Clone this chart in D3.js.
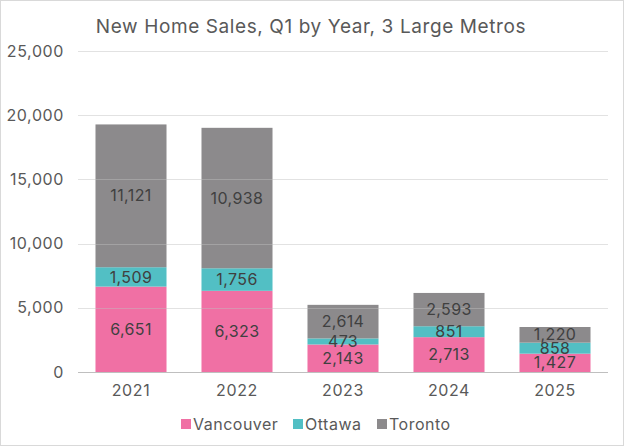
<!DOCTYPE html>
<html lang="en">
<head>
  <meta charset="UTF-8">
  <title>New Home Sales</title>
  <script src="https://d3js.org/d3.v7.min.js"></script>
  <style>
    body { margin: 0; font-family: Inter, "Open Sans", sans-serif; }
    svg { display: block; }
  </style>
</head>
<body>
  <svg width="624" height="446"></svg>
  <script>
    const years = ['2021', '2022', '2023', '2024', '2025'];
    const seriesNames = ['Vancouver', 'Ottawa', 'Toronto'];
    const vancouver = [6651, 6323, 2143, 2713, 1427];
    const ottawa = [1509, 1756, 473, 851, 858];
    const toronto = [11121, 10938, 2614, 2593, 1220];
    const yTicks = [0, 5000, 10000, 15000, 20000, 25000];
    const colors = ['#F070A4', '#52BFC4', '#8C8A8C'];

    const svg = d3.select('svg');
    const W = 624, H = 446;
    const m = { top: 51, right: 16, bottom: 74, left: 78 };

    svg.append('rect').attr('x', 0.5).attr('y', 0.5).attr('width', W - 1).attr('height', H - 1)
      .attr('fill', '#fff').attr('stroke', '#d9d9d9');

    svg.append('text').attr('x', W / 2 - 1).attr('y', 26).attr('dy', '0.35em').attr('text-anchor', 'middle')
      .attr('fill', '#595959').style('font-size', '19px').style('letter-spacing', '0.6px')
      .text('New Home Sales, Q1 by Year, 3 Large Metros');

    const table = years.map((y, i) => ({ year: y, Vancouver: vancouver[i], Ottawa: ottawa[i], Toronto: toronto[i] }));
    const stack = d3.stack().keys(seriesNames)(table);

    const x = d3.scaleBand().domain(years).range([m.left, W - m.right]).paddingInner(0.33).paddingOuter(0.165);
    const y = d3.scaleLinear().domain([0, 25000]).range([H - m.bottom, m.top]);

    // bars
    svg.append('g').selectAll('g').data(stack).join('g')
      .attr('fill', (d, i) => colors[i])
      .selectAll('rect').data(d => d).join('rect')
      .attr('x', d => x(d.data.year))
      .attr('y', d => y(d[1]))
      .attr('width', x.bandwidth())
      .attr('height', d => y(d[0]) - y(d[1]));

    // gridlines (drawn faintly over bars)
    svg.append('g').selectAll('line').data(yTicks.slice(1)).join('line')
      .attr('x1', m.left).attr('x2', W - m.right)
      .attr('y1', d => Math.round(y(d)) + 0.5).attr('y2', d => Math.round(y(d)) + 0.5)
      .attr('stroke', '#bfbfbf').attr('stroke-opacity', 0.45);
    svg.append('line').attr('x1', m.left).attr('x2', W - m.right)
      .attr('y1', Math.round(y(0)) + 0.5).attr('y2', Math.round(y(0)) + 0.5)
      .attr('stroke', '#bfbfbf');

    // y axis labels
    const yAxis = d3.axisLeft(y).tickValues(yTicks).tickSize(0).tickPadding(14).tickFormat(d3.format(','));
    const ya = svg.append('g').attr('transform', `translate(${m.left},0)`).call(yAxis);
    ya.select('.domain').remove();
    ya.selectAll('text').attr('fill', '#595959').style('font-size', '16px').style('letter-spacing', '0.6px')
      .style('font-family', 'Inter, sans-serif');

    // x axis labels
    const xAxis = d3.axisBottom(x).tickSize(0).tickPadding(13);
    const xa = svg.append('g').attr('transform', `translate(0,${y(0)})`).call(xAxis);
    xa.select('.domain').remove();
    xa.selectAll('text').attr('fill', '#595959').style('font-size', '16px').style('letter-spacing', '0.6px')
      .style('font-family', 'Inter, sans-serif');

    // data labels
    svg.append('g').selectAll('g').data(stack).join('g')
      .selectAll('text').data(d => d.map(v => ({ v, key: d.key }))).join('text')
      .attr('x', d => x(d.v.data.year) + x.bandwidth() / 2)
      .attr('y', d => (y(d.v[0]) + y(d.v[1])) / 2)
      .attr('dy', '0.35em')
      .attr('text-anchor', 'middle')
      .attr('fill', '#404040')
      .style('font-size', '16px').style('letter-spacing', '0.4px')
      .text(d => d3.format(',')(d.v.data[d.key]));

    // legend
    const legendX = [181, 293, 377];
    const lg = svg.append('g').selectAll('g').data(seriesNames).join('g')
      .attr('transform', (d, i) => `translate(${legendX[i]},424)`);
    lg.append('rect').attr('x', 0).attr('y', -5).attr('width', 10).attr('height', 10).attr('fill', (d, i) => colors[i]);
    lg.append('text').attr('x', 12).attr('y', 0).attr('dy', '0.35em')
      .attr('fill', '#595959').style('font-size', '16px').style('letter-spacing', '0.5px').text(d => d);
  </script>
</body>
</html>
